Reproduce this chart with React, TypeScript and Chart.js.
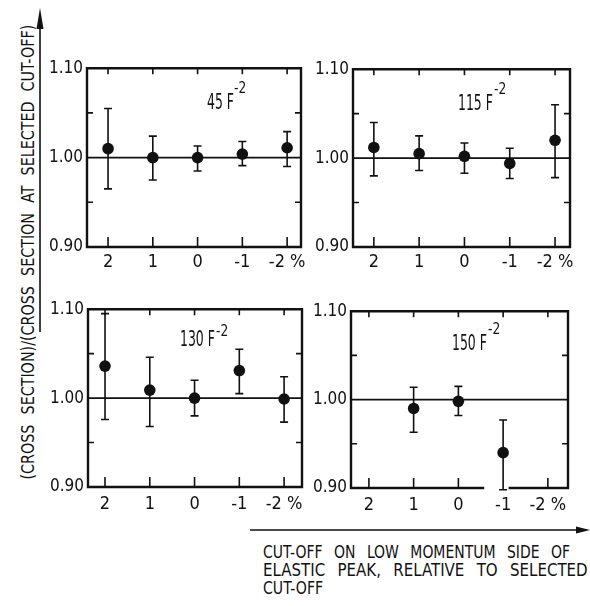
import React, { useEffect, useLayoutEffect, useRef, useState } from "react";
import { Chart, registerables } from "chart.js";

Chart.register(...registerables);

// ---------- data ----------
const cutoffs = [2, 1, 0, -1, -2];
const xTickLabels = ["2", "1", "0", "-1", "-2 %"];
const yTickValues = [0.9, 1.0, 1.1];
const yTickLabels = ["0.90", "1.00", "1.10"];
const yMinorTicks = [0.95, 1.05];
const referenceRatio = 1.0;

const panelLabels = ["45", "115", "130", "150"];

const ratio45 = [1.01, 1.0, 1.0, 1.004, 1.011];
const low45 = [0.965, 0.975, 0.985, 0.991, 0.99];
const high45 = [1.055, 1.024, 1.013, 1.018, 1.029];

const ratio115 = [1.012, 1.005, 1.002, 0.994, 1.02];
const low115 = [0.98, 0.986, 0.983, 0.977, 0.978];
const high115 = [1.04, 1.025, 1.017, 1.011, 1.06];

const ratio130 = [1.036, 1.009, 1.0, 1.031, 0.999];
const low130 = [0.976, 0.968, 0.98, 1.005, 0.973];
const high130 = [1.095, 1.046, 1.02, 1.055, 1.024];

const ratio150 = [null, 0.99, 0.998, 0.94, null];
const low150 = [null, 0.963, 0.982, 0.898, null];
const high150 = [null, 1.014, 1.015, 0.977, null];

const yTitleNum = "(CROSS SECTION)/";
const yTitleDen = "(CROSS SECTION AT SELECTED CUT-OFF)";
const xTitleLines = [
  "CUT-OFF ON LOW MOMENTUM SIDE OF",
  "ELASTIC PEAK, RELATIVE TO SELECTED",
  "CUT-OFF",
];

// ---------- layout / style ----------
const TICK_FONT =
  "'DejaVu Sans Condensed', 'Liberation Sans Narrow', 'DejaVu Sans', sans-serif";
const TEXT_FONT = "'DejaVu Sans Condensed', 'DejaVu Sans', sans-serif";
const INK = "#111";

type Series = (number | null)[];
interface PanelSpec {
  label: string;
  ratio: Series;
  low: Series;
  high: Series;
  box: { l: number; t: number; r: number; b: number };
  xLeft: number;
  xRight: number;
  labelPad: number;
  gap?: [number, number];
  title: { x: number; y: number; sx: number; sy: number };
}

const panels: PanelSpec[] = [
  {
    label: panelLabels[0], ratio: ratio45, low: low45, high: high45,
    box: { l: 87, t: 66, r: 301, b: 247 }, xLeft: 2.47, xRight: -2.31, labelPad: 5,
    title: { x: 207, y: 102, sx: 234, sy: 87 },
  },
  {
    label: panelLabels[1], ratio: ratio115, low: low115, high: high115,
    box: { l: 353, t: 67, r: 570, b: 247 }, xLeft: 2.46, xRight: -2.33, labelPad: 5,
    title: { x: 458, y: 103, sx: 494, sy: 88 },
  },
  {
    label: panelLabels[2], ratio: ratio130, low: low130, high: high130,
    box: { l: 88, t: 307, r: 302, b: 487 }, xLeft: 2.38, xRight: -2.4, labelPad: 7,
    title: { x: 180, y: 339, sx: 216, sy: 330 },
  },
  {
    label: panelLabels[3], ratio: ratio150, low: low150, high: high150,
    box: { l: 351, t: 309, r: 568, b: 488 }, xLeft: 2.4, xRight: -2.45, labelPad: 7,
    gap: [-0.55, -1.15],
    title: { x: 452, y: 343, sx: 488, sy: 328 },
  },
];

const PADL = 46, PADT = 12, PADR = 16, PADB = 34;

function Panel({ spec }: { spec: PanelSpec }) {
  const ref = useRef<HTMLCanvasElement>(null);
  const { box } = spec;
  const w = box.r - box.l + PADL + PADR;
  const h = box.b - box.t + PADT + PADB;

  useEffect(() => {
    if (!ref.current) return;
    const decor = {
      id: "decor",
      beforeDatasetsDraw(chart: any) {
        const { ctx, chartArea: a, scales } = chart;
        const xs = scales.x, ys = scales.y;
        ctx.save();
        ctx.strokeStyle = INK;
        ctx.lineWidth = 1.8;
        const yr = ys.getPixelForValue(referenceRatio);
        ctx.beginPath();
        ctx.moveTo(a.left, yr);
        ctx.lineTo(a.right, yr);
        ctx.stroke();
        ctx.lineWidth = 1.6;
        cutoffs.forEach((c, i) => {
          const lo = spec.low[i], hi = spec.high[i];
          if (lo == null || hi == null) return;
          const x = xs.getPixelForValue(c);
          const y1 = ys.getPixelForValue(lo), y2 = ys.getPixelForValue(hi);
          ctx.beginPath();
          ctx.moveTo(x, y1); ctx.lineTo(x, y2);
          ctx.moveTo(x - 4, y1); ctx.lineTo(x + 4, y1);
          ctx.moveTo(x - 4, y2); ctx.lineTo(x + 4, y2);
          ctx.stroke();
        });
        ctx.restore();
      },
      afterDatasetsDraw(chart: any) {
        const { ctx, chartArea: a, scales } = chart;
        const xs = scales.x, ys = scales.y;
        ctx.save();
        ctx.strokeStyle = INK;
        ctx.lineWidth = 2.4;
        ctx.lineCap = "square";
        ctx.beginPath();
        ctx.moveTo(a.left, a.bottom); ctx.lineTo(a.left, a.top);
        ctx.lineTo(a.right, a.top); ctx.lineTo(a.right, a.bottom);
        if (spec.gap) {
          const g1 = xs.getPixelForValue(spec.gap[0]);
          const g2 = xs.getPixelForValue(spec.gap[1]);
          ctx.moveTo(a.left, a.bottom); ctx.lineTo(Math.min(g1, g2), a.bottom);
          ctx.moveTo(Math.max(g1, g2), a.bottom); ctx.lineTo(a.right, a.bottom);
        } else {
          ctx.moveTo(a.left, a.bottom); ctx.lineTo(a.right, a.bottom);
        }
        ctx.stroke();
        ctx.lineWidth = 1.6;
        ctx.lineCap = "butt";
        ctx.beginPath();
        cutoffs.forEach((c) => {
          const x = xs.getPixelForValue(c);
          ctx.moveTo(x, a.top); ctx.lineTo(x, a.top + 6);
          const inGap = spec.gap && c <= spec.gap[0] && c >= spec.gap[1];
          if (!inGap) { ctx.moveTo(x, a.bottom); ctx.lineTo(x, a.bottom - 10); }
        });
        yMinorTicks.forEach((v) => {
          const y = ys.getPixelForValue(v);
          ctx.moveTo(a.left, y); ctx.lineTo(a.left + 6, y);
          ctx.moveTo(a.right, y); ctx.lineTo(a.right - 6, y);
        });
        ctx.stroke();
        ctx.restore();
      },
    };

    const points = cutoffs
      .map((c, i) => (spec.ratio[i] == null ? null : { x: c, y: spec.ratio[i] as number }))
      .filter((p) => p !== null) as { x: number; y: number }[];

    const chart = new Chart(ref.current, {
      type: "scatter",
      data: {
        datasets: [
          {
            data: points,
            pointRadius: 5.8,
            pointBackgroundColor: INK,
            pointBorderColor: INK,
            pointBorderWidth: 0,
            showLine: false,
          },
        ],
      },
      options: {
        animation: false,
        responsive: false,
        maintainAspectRatio: false,
        clip: false,
        layout: { padding: { left: 0, top: PADT, right: PADR, bottom: 0 } },
        plugins: { legend: { display: false }, tooltip: { enabled: false } },
        scales: {
          x: {
            type: "linear",
            reverse: true,
            min: spec.xRight,
            max: spec.xLeft,
            afterBuildTicks: (s: any) => { s.ticks = cutoffs.map((v) => ({ value: v })); },
            afterFit: (s: any) => { s.height = PADB; },
            grid: { display: false, drawTicks: false },
            border: { display: false },
            ticks: {
              padding: spec.labelPad,
              color: INK,
              maxRotation: 0,
              autoSkip: false,
              font: { family: TICK_FONT, size: 18 },
              callback: (_v: any, i: number) => xTickLabels[i],
            },
          },
          y: {
            type: "linear",
            min: 0.9,
            max: 1.1,
            afterBuildTicks: (s: any) => { s.ticks = yTickValues.map((v) => ({ value: v })); },
            afterFit: (s: any) => { s.width = PADL; },
            grid: { display: false, drawTicks: false },
            border: { display: false },
            ticks: {
              padding: 4,
              color: INK,
              font: { family: TICK_FONT, size: 17 },
              callback: (_v: any, i: number) => yTickLabels[i],
            },
          },
        },
      },
      plugins: [decor],
    } as any);
    return () => chart.destroy();
  }, []);

  return (
    <canvas
      ref={ref}
      width={w}
      height={h}
      style={{ position: "absolute", left: box.l - PADL, top: box.t - PADT, width: w, height: h }}
    />
  );
}

function FitText({ text, width, fontSize, wordSpacing }: { text: string; width: number; fontSize: number; wordSpacing?: string }) {
  const ref = useRef<HTMLSpanElement>(null);
  const [sx, setSx] = useState(1);
  useLayoutEffect(() => {
    const el = ref.current;
    if (el && el.offsetWidth > 0) setSx(width / el.offsetWidth);
  }, [text, width]);
  return (
    <span
      ref={ref}
      style={{
        display: "inline-block",
        whiteSpace: "pre",
        transformOrigin: "0 50%",
        transform: `scaleX(${sx})`,
        fontSize,
        wordSpacing,
      }}
    >
      {text}
    </span>
  );
}

function CondText({ x, y, size, text, k }: { x: number; y: number; size: number; text: string; k: number }) {
  const lh = Math.round(size * 1.2);
  return (
    <div
      style={{
        position: "absolute",
        left: x,
        top: y - lh / 2,
        lineHeight: `${lh}px`,
        fontSize: size,
        whiteSpace: "pre",
        transformOrigin: "0 50%",
        transform: `scaleX(${k})`,
      }}
    >
      {text}
    </div>
  );
}

export default function App() {
  useEffect(() => {
    document.body.style.margin = "0";
  }, []);
  const yTitleLen = 455;
  return (
    <div
      style={{
        position: "absolute",
        left: 0,
        top: 0,
        width: 590,
        height: 606,
        background: "#fff",
        color: INK,
        fontFamily: TEXT_FONT,
        overflow: "hidden",
      }}
    >
      {panels.map((p, i) => (
        <Panel key={i} spec={p} />
      ))}
      {panels.map((p, i) => (
        <React.Fragment key={"t" + i}>
          <CondText x={p.title.x} y={p.title.y} size={21} text={`${p.label} F`} k={0.66} />
          <CondText x={p.title.sx} y={p.title.sy} size={16} text="-2" k={0.85} />
        </React.Fragment>
      ))}

      <div
        style={{
          position: "absolute",
          left: 27 - yTitleLen / 2,
          top: 252 - 11,
          width: yTitleLen,
          height: 22,
          lineHeight: "22px",
          transform: "rotate(-90deg)",
          transformOrigin: "50% 50%",
          whiteSpace: "pre",
        }}
      >
        <FitText text={yTitleNum + yTitleDen} width={yTitleLen} fontSize={18} wordSpacing="0.35em" />
      </div>

      {xTitleLines.map((line, i) => (
        <div
          key={"x" + i}
          style={{ position: "absolute", left: 263, top: 552 + i * 18 - 11, height: 22, lineHeight: "22px" }}
        >
          <FitText text={line} width={[307, 325, 60][i]} fontSize={18} wordSpacing="0.45em" />
        </div>
      ))}

      <svg
        width={590}
        height={606}
        style={{ position: "absolute", left: 0, top: 0, pointerEvents: "none" }}
      >
        <line x1={40} y1={332} x2={40} y2={20} stroke={INK} strokeWidth={1.6} />
        <polygon points="40,8 36.5,29 43.5,29" fill={INK} />
        <line x1={250} y1={530} x2={578} y2={530} stroke={INK} strokeWidth={1.6} />
        <polygon points="590,530 576,526.5 576,533.5" fill={INK} />
      </svg>
    </div>
  );
}
